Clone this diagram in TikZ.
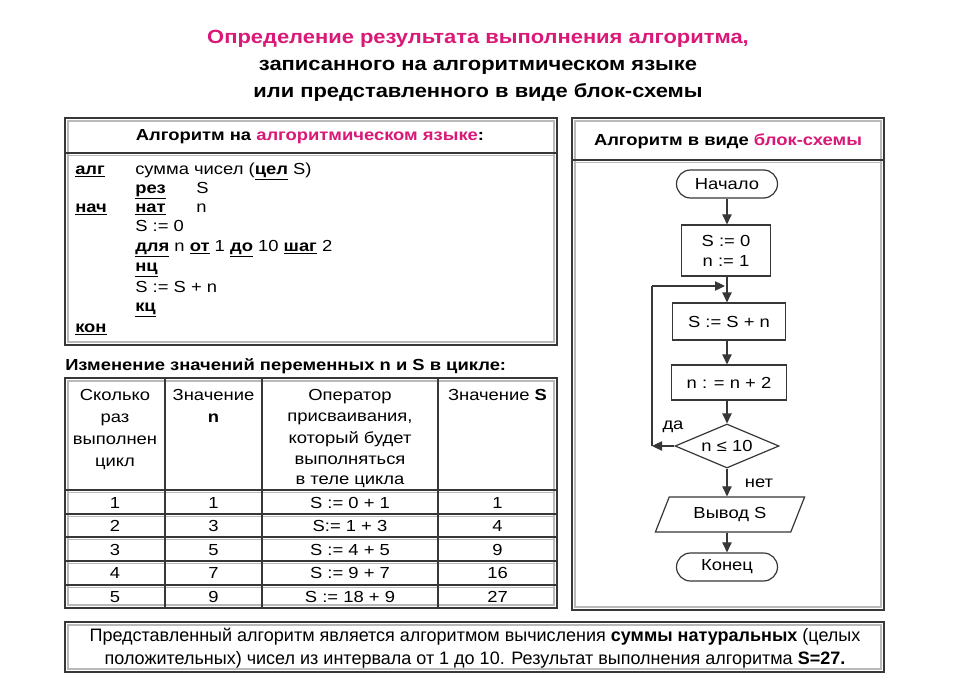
\documentclass[tikz,border=0pt]{standalone}
\usepackage{fontspec}
\setmainfont{Liberation Sans}[FakeStretch=1.15]
\newfontfamily\plainfont{Liberation Sans}
\usetikzlibrary{shapes.geometric,arrows.meta,calc}
\definecolor{mag}{RGB}{217,24,120}
\definecolor{frm}{RGB}{55,55,55}
\newcommand{\kw}[1]{\underline{\textbf{#1}}}
\newcommand{\frmbox}[4]{%
  \draw[gray!55,line width=1.2pt] (#1+3,#2+3) rectangle (#3-3,#4-3);
  \draw[frm,line width=1.6pt] (#1,#2) rectangle (#3,#4);}
\tikzset{
  ttl/.style={font=\bfseries\fontsize{14.3}{16}\selectfont, anchor=base, inner sep=0pt},
  hdr/.style={font=\bfseries\fontsize{12}{14}\selectfont},
  code/.style={font=\fontsize{12}{14}\selectfont, anchor=base west, inner sep=0pt},
  cell/.style={font=\fontsize{12}{14}\selectfont, inner sep=0pt, anchor=base},
  sep/.style={frm,line width=1pt},
  fc/.style={draw=frm, line width=0.9pt, font=\fontsize{12}{14}\selectfont, inner sep=0pt},
  arr/.style={draw=frm, line width=0.9pt, -{Triangle[length=7.5pt,width=7pt]}},
  lbl/.style={font=\fontsize{12}{14}\selectfont, inner sep=0pt},
}
\begin{document}
\begin{tikzpicture}[x=0.75pt,y=-0.75pt]
\useasboundingbox (0,0) rectangle (965,682);
\fill[white] (0,0) rectangle (965,682);
% title
\node[ttl,text=mag] (t1) at (478,43) {Определение результата выполнения алгоритма,};
\node[ttl] (t2) at (478,70) {записанного на алгоритмическом языке};
\node[ttl] (t3) at (478,97) {или представленного в виде блок-схемы};

% left algorithm box
\frmbox{65}{118}{557}{345}
\draw[gray!55,line width=1pt] (68,155.5) -- (554,155.5);
\draw[sep] (65,153) -- (557,153);
\node[hdr] (h1) at (310,137) {Алгоритм на \textcolor{mag}{алгоритмическом языке}:};
\node[code] (c1a) at (75,174) {\kw{алг}};
\node[code] (c1b) at (135,174) {сумма чисел (\kw{цел} S)};
\node[code] (c2b) at (135,193) {\kw{рез}};
\node[code] (c2c) at (196,193) {S};
\node[code] (c3a) at (75,212) {\kw{нач}};
\node[code] (c3b) at (135,212) {\kw{нат}};
\node[code] (c3c) at (196,212) {n};
\node[code] (c4b) at (135,231) {S := 0};
\node[code] (c5b) at (135,251) {\kw{для} n \kw{от} 1 \kw{до} 10 \kw{шаг} 2};
\node[code] (c6b) at (135,271) {\kw{нц}};
\node[code] (c7b) at (135,292) {S := S + n};
\node[code] (c8b) at (135,311) {\kw{кц}};
\node[code] (c9a) at (75,332) {\kw{кон}};

% table caption
\node[hdr,anchor=base west,inner sep=0pt] (tc) at (65,370) {Изменение значений переменных n и S в цикле:};

% table
\frmbox{65}{378}{557}{608}
\foreach \yy in {490,514,537,561,585}{
  \draw[gray!55,line width=1pt] (68,\yy+2.5) -- (554,\yy+2.5);
  \draw[sep] (65,\yy) -- (557,\yy);}
\foreach \xx in {165,262,438}{
  \draw[sep] (\xx,378) -- (\xx,608);}
% header cells
\node[cell] (ha1) at (115,400) {Сколько};
\node[cell] (ha2) at (115,422) {раз};
\node[cell] (ha3) at (115,444) {выполнен};
\node[cell] (ha4) at (115,466) {цикл};
\node[cell] (hb1) at (213.5,400) {Значение};
\node[cell] (hb2) at (213.5,422) {\textbf{n}};
\node[cell] (hc1) at (350,400) {Оператор};
\node[cell] (hc2) at (350,421) {присваивания,};
\node[cell] (hc3) at (350,443) {который будет};
\node[cell] (hc4) at (350,464) {выполняться};
\node[cell] (hc5) at (350,484) {в теле цикла};
\node[cell] (hd1) at (497.5,400) {Значение \textbf{S}};
% data
\foreach \i/\n/\op/\s [count=\k] in {1/1/{S := 0 + 1}/1, 2/3/{S:= 1 + 3}/4, 3/5/{S := 4 + 5}/9, 4/7/{S := 9 + 7}/16, 5/9/{S := 18 + 9}/27}{
  \pgfmathsetmacro{\yb}{490+(\k-1)*23.6+18}
  \node[cell] (ra\k) at (115,\yb) {\i};
  \node[cell] (rb\k) at (213.5,\yb) {\n};
  \node[cell] (rc\k) at (350,\yb) {\op};
  \node[cell] (rd\k) at (497.5,\yb) {\s};
}

% right flowchart box
\frmbox{572}{118}{884}{610}
\draw[gray!55,line width=1pt] (575,162.5) -- (881,162.5);
\draw[sep] (572,160) -- (884,160);
\node[hdr] (h2) at (728,141) {Алгоритм в виде \textcolor{mag}{блок-схемы}};

\node[fc, rounded corners=10.5pt, minimum width=75.75pt, minimum height=21pt] (st) at (727,184) {Начало};
\node[fc, minimum width=66.75pt, minimum height=38.25pt, align=center] (ini) at (726,250.5) {S := 0\\[1pt] n := 1};
\node[fc, minimum width=84.75pt, minimum height=27.75pt] (add) at (729,321.5) {S := S + n};
\node[fc, minimum width=86.25pt, minimum height=26.25pt] (inc) at (729,382.5) {n : = n + 2};
\node[fc, diamond, aspect=2.4, minimum width=78pt, minimum height=33pt] (dec) at (727,446) {n ≤ 10};
\node[fc, trapezium, trapezium left angle=60, trapezium right angle=120, trapezium stretches=true, minimum width=112.5pt, minimum height=26.25pt] (out) at (730,514.5) {Вывод S};
\node[fc, rounded corners=10.5pt, minimum width=75.75pt, minimum height=21pt] (en) at (727,567) {Конец};

\coordinate (lp) at (652,446);
\coordinate (lt) at (652,286);
\coordinate (jn) at (725,286);
\draw[arr] (st.south) -- (st.south |- ini.north);
\draw[arr] (ini.south -| st.south) -- (add.north -| st.south);
\draw[arr] (add.south -| st.south) -- (inc.north -| st.south);
\draw[arr] (inc.south -| st.south) -- (dec.north);
\draw[arr] (dec.west) -- (lp);
\draw[draw=frm, line width=0.9pt] (lp) -- (lt);
\draw[arr] (lt) -- (jn);
\draw[arr] (dec.south) -- (dec.south |- out.north);
\draw[arr] (out.south -| dec.south) -- (en.north);
\node[lbl] (da) at (673,427) {да};
\node[lbl] (net) at (759,483) {нет};

% bottom box
\frmbox{65}{622}{884}{672}
\node[font=\plainfont\fontsize{13.5}{17}\selectfont, align=center] (bt) at (475,648) {Представленный алгоритм является алгоритмом вычисления \textbf{суммы натуральных} (целых\\ положительных) чисел из интервала от 1 до 10. Результат выполнения алгоритма \textbf{S=27.}};
\end{tikzpicture}
\end{document}
